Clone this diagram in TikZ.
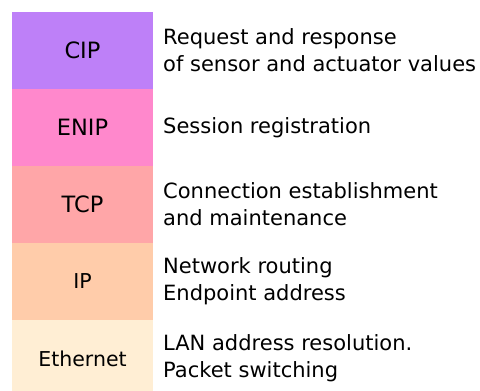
\documentclass[tikz,border=0pt]{standalone}
\usepackage{fontspec}
\setmainfont{DejaVu Sans}
\usetikzlibrary{positioning}
\definecolor{cipcol}{HTML}{BE80F8}
\definecolor{enipcol}{HTML}{FF88CC}
\definecolor{tcpcol}{HTML}{FFA6A8}
\definecolor{ipcol}{HTML}{FFCCAA}
\definecolor{ethcol}{HTML}{FFEED4}
\tikzset{
  layer/.style={minimum width=141pt, minimum height=77pt, inner sep=0pt, outer sep=0pt},
  big/.style={font=\fontsize{22.5}{22.5}\selectfont},
  small/.style={font=\fontsize{20.5}{20.5}\selectfont},
  desc/.style={align=left, anchor=west, inner sep=0pt, font=\fontsize{21}{27}\selectfont}
}
\begin{document}
\begin{tikzpicture}[x=1pt,y=1pt]
\useasboundingbox (0,0) rectangle (480,-391);
\begin{scope}
\clip (0,0) rectangle (480,-391);
% protocol stack
\node[layer, big, fill=cipcol, anchor=north west] (cip) at (12,-12) {CIP};
\node[layer, big, fill=enipcol, below=0pt of cip] (enip) {ENIP};
\node[layer, big, fill=tcpcol, below=0pt of enip] (tcp) {TCP};
\node[layer, small, fill=ipcol, below=0pt of tcp] (ip) {IP};
\node[layer, small, fill=ethcol, below=0pt of ip] (eth) {Ethernet};
\end{scope}
% what each layer does
\node[desc, right=10pt of cip] (cipdesc) {Request and response\\of sensor and actuator values};
\node[desc, right=10pt of enip] (enipdesc) {Session registration};
\node[desc, right=10pt of tcp] (tcpdesc) {Connection establishment\\and maintenance};
\node[desc, right=10pt of ip] (ipdesc) {Network routing\\Endpoint address};
\node[desc, right=10pt of eth] (ethdesc) {LAN address resolution.\\Packet switching};
\end{tikzpicture}
\end{document}
